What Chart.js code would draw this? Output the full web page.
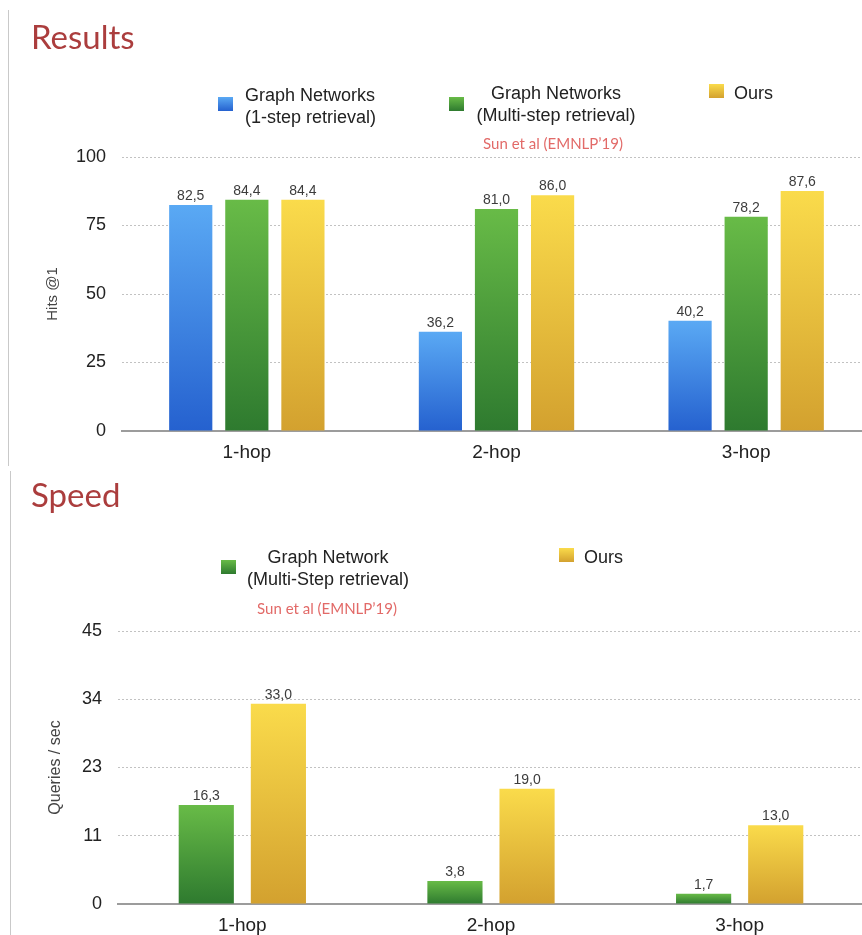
<!DOCTYPE html>
<html>
<head>
<meta charset="utf-8">
<script src="https://cdn.jsdelivr.net/npm/chart.js@4.4.1/dist/chart.umd.min.js"></script>
<style>
  html, body { margin: 0; padding: 0; background: #fff; width: 862px; height: 935px; overflow: hidden; }
  .panel { position: absolute; left: 0; width: 862px; overflow: hidden; }
  .panel canvas { position: absolute; left: 0; top: 0; }
  .edge { position: absolute; width: 0; border-left: 1px solid #c9c9c9; }
  .title { position: absolute; font-family: Lato, "Open Sans", sans-serif; font-size: 33px; line-height: 33px; color: #ab3d3d; white-space: nowrap; }
  .sw { position: absolute; width: 15px; height: 14px; }
  .lt { position: absolute; font-family: "Liberation Sans", Arial, sans-serif; font-size: 18px; line-height: 22px; color: #222; white-space: nowrap; }
  .cite { position: absolute; font-family: Lato, "Open Sans", sans-serif; font-size: 15px; line-height: 14px; color: #e26a68; white-space: nowrap; text-align: center; width: 220px; }
</style>
</head>
<body>
<div class="panel" id="p1" style="top:0;height:466px">
  <canvas id="hitsChart" width="900" height="466"></canvas>
  <div class="edge" style="left:8px;top:10px;height:456px"></div>
  <div class="title" style="left:31px;top:20px">Results</div>
</div>
<div class="panel" id="p2" style="top:466px;height:469px">
  <canvas id="speedChart" width="900" height="469"></canvas>
  <div class="edge" style="left:10px;top:5px;height:464px"></div>
  <div class="title" style="left:31px;top:12px">Speed</div>
</div>
<script>
// ---- data ----
const hopLabels = ['1-hop', '2-hop', '3-hop'];

const hitsSeriesNames = [['Graph Networks', '(1-step retrieval)'], ['Graph Networks', '(Multi-step retrieval)'], ['Ours']];
const hitsOneStep   = [82.5, 36.2, 40.2];
const hitsMultiStep = [84.4, 81.0, 78.2];
const hitsOurs      = [84.4, 86.0, 87.6];
const hitsTicks     = ['0', '25', '50', '75', '100'];

const speedSeriesNames = [['Graph Network', '(Multi-Step retrieval)'], ['Ours']];
const speedMultiStep = [16.3, 3.8, 1.7];
const speedOurs      = [33.0, 19.0, 13.0];
const speedTicks     = ['0', '11', '23', '34', '45'];

const citation = 'Sun et al (EMNLP\u201919)';

// ---- colours (top of bar -> bottom of bar) ----
const BLUE   = ['#5aa9f4', '#2561cf'];
const GREEN  = ['#68bb47', '#2e7a2f'];
const YELLOW = ['#fadb4b', '#d3a12f'];

const SANS = '"Liberation Sans", Arial, sans-serif';

function barGradient(stops) {
  return (ctx) => {
    const chart = ctx.chart;
    const y = chart.scales.y;
    if (!chart.chartArea || !y || ctx.raw === undefined) return stops[0];
    const top = y.getPixelForValue(ctx.raw);
    const base = y.getPixelForValue(0);
    const g = chart.ctx.createLinearGradient(0, top, 0, base);
    g.addColorStop(0, stops[0]);
    g.addColorStop(1, stops[1]);
    return g;
  };
}

// value text above every bar, decimal comma
const valueLabels = {
  id: 'valueLabels',
  afterDatasetsDraw(chart) {
    const ctx = chart.ctx;
    ctx.save();
    ctx.font = '14px ' + SANS;
    ctx.fillStyle = '#3c3c3c';
    ctx.textAlign = 'center';
    ctx.textBaseline = 'alphabetic';
    chart.data.datasets.forEach((ds, i) => {
      chart.getDatasetMeta(i).data.forEach((bar, j) => {
        ctx.fillText(ds.data[j].toFixed(1).replace('.', ','), bar.x, bar.y - 5);
      });
    });
    ctx.restore();
  }
};

function makeChart(id, cfg) {
  return new Chart(document.getElementById(id), {
    type: 'bar',
    data: { labels: hopLabels, datasets: cfg.datasets },
    options: {
      responsive: false,
      animation: false,
      events: [],
      layout: { padding: { top: cfg.padTop, right: cfg.padRight, left: 0, bottom: 0 } },
      plugins: { legend: { display: false }, tooltip: { enabled: false } },
      datasets: { bar: { categoryPercentage: cfg.catPct, barPercentage: cfg.barPct, borderWidth: 0 } },
      scales: {
        x: {
          grid: { display: false, drawTicks: false },
          border: { display: true, color: '#9c9c9c', width: 2 },
          ticks: { padding: 10, color: '#222', font: { family: SANS, size: 19 } },
          afterFit: (s) => { s.height = cfg.xHeight; }
        },
        y: {
          min: 0, max: cfg.max,
          ticks: {
            stepSize: cfg.step, padding: 16, color: '#222',
            font: { family: SANS, size: 18 },
            callback: (v, i) => cfg.tickLabels[i]
          },
          grid: {
            drawTicks: false,
            color: (c) => (c.tick && c.tick.value === 0) ? 'rgba(0,0,0,0)' : '#c2c2c2',
            lineWidth: 1
          },
          border: { display: false, dash: [2, 2] },
          title: {
            display: true, text: cfg.yTitle, color: '#444',
            font: { family: SANS, size: cfg.yTitleSize },
            padding: { top: cfg.yTitlePad, bottom: 0 }
          },
          afterFit: (s) => { s.width = cfg.yWidth; }
        }
      }
    },
    plugins: [valueLabels]
  });
}

makeChart('hitsChart', {
  datasets: [
    { label: hitsSeriesNames[0].join(' '), data: hitsOneStep,   backgroundColor: barGradient(BLUE) },
    { label: hitsSeriesNames[1].join(' '), data: hitsMultiStep, backgroundColor: barGradient(GREEN) },
    { label: hitsSeriesNames[2].join(' '), data: hitsOurs,      backgroundColor: barGradient(YELLOW) }
  ],
  padTop: 157, padRight: 29, xHeight: 35, yWidth: 122,
  catPct: 0.674, barPct: 0.77,
  max: 100, step: 25, tickLabels: hitsTicks,
  yTitle: 'Hits @1', yTitleSize: 15, yTitlePad: 44
});

makeChart('speedChart', {
  datasets: [
    { label: speedSeriesNames[0].join(' '), data: speedMultiStep, backgroundColor: barGradient(GREEN) },
    { label: speedSeriesNames[1].join(' '), data: speedOurs,      backgroundColor: barGradient(YELLOW) }
  ],
  padTop: 165, padRight: 36, xHeight: 31, yWidth: 118,
  catPct: 0.58, barPct: 0.765,
  max: 45, step: 11.25, tickLabels: speedTicks,
  yTitle: 'Queries / sec', yTitleSize: 16, yTitlePad: 46
});

// ---- legends (HTML, built from the series names and colours) ----
function addLegend(panelId, items, cite) {
  const panel = document.getElementById(panelId);
  items.forEach((it) => {
    const sw = document.createElement('div');
    sw.className = 'sw';
    sw.style.left = it.sx + 'px';
    sw.style.top = it.sy + 'px';
    sw.style.background = 'linear-gradient(' + it.colors[0] + ',' + it.colors[1] + ')';
    panel.appendChild(sw);
    const tx = document.createElement('div');
    tx.className = 'lt';
    tx.style.top = it.ty + 'px';
    if (it.center !== undefined) {
      tx.style.left = (it.center - 150) + 'px';
      tx.style.width = '300px';
      tx.style.textAlign = 'center';
    } else {
      tx.style.left = it.tx + 'px';
    }
    tx.innerHTML = it.lines.join('<br>');
    panel.appendChild(tx);
  });
  const c = document.createElement('div');
  c.className = 'cite';
  c.style.left = (cite.center - 110) + 'px';
  c.style.top = cite.top + 'px';
  c.textContent = citation;
  panel.appendChild(c);
}

addLegend('p1', [
  { sx: 218, sy: 97, tx: 245, ty: 84, lines: hitsSeriesNames[0], colors: BLUE },
  { sx: 449, sy: 97, center: 556, ty: 82, lines: hitsSeriesNames[1], colors: GREEN },
  { sx: 709, sy: 84, tx: 734, ty: 82, lines: hitsSeriesNames[2], colors: YELLOW }
], { center: 553, top: 136 });

addLegend('p2', [
  { sx: 221, sy: 94, center: 328, ty: 80, lines: speedSeriesNames[0], colors: GREEN },
  { sx: 559, sy: 82, tx: 584, ty: 80, lines: speedSeriesNames[1], colors: YELLOW }
], { center: 327, top: 135 });
</script>
</body>
</html>
